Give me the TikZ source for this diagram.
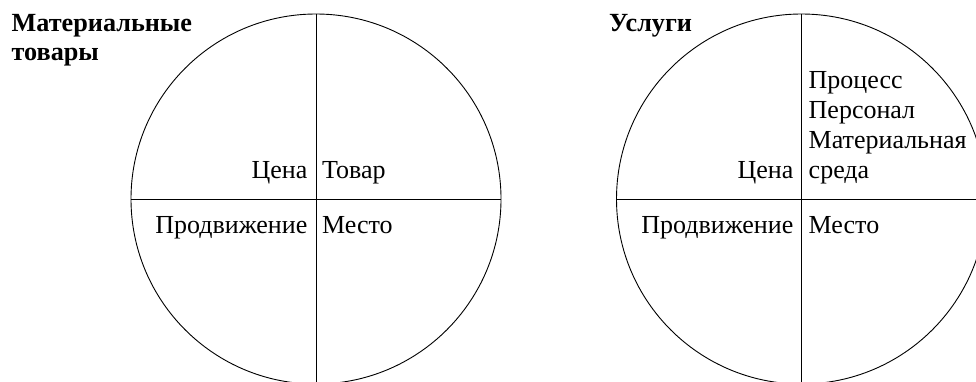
\documentclass[tikz,border=0pt]{standalone}
\usepackage{fontspec}
\setmainfont{Liberation Serif}
\usetikzlibrary{positioning}

\begin{document}
\begin{tikzpicture}[x=1pt, y=-1pt,
  quad/.style={circle, draw, line width=0.9pt, minimum size=370pt, inner sep=0pt},
  axis/.style={line width=0.9pt},
  lbl/.style={inner sep=0pt, font=\fontsize{26}{29.7}\selectfont},
  ttl/.style={inner sep=0pt, anchor=base west, font=\fontsize{26.2}{28.5}\selectfont\bfseries}]
  \useasboundingbox (0,0) rectangle (976,381);
  \clip (0,0) rectangle (976,381);
  % Circles split in four
  \node[quad] (goods) at (316,199) {};
  \node[quad] (serv) at (801.5,199) {};
  \foreach \c in {goods, serv}
    {\draw[axis] (\c.north) -- (\c.south);
     \draw[axis] (\c.west) -- (\c.east);}
  % Titles
  \node[ttl] (gtitle1) at (11.5,31.5) {Материальные};
  \node[ttl] (gtitle2) at (11.5,60) {товары};
  \node[ttl] (stitle) at (609,31.5) {Услуги};
  % Left: goods
  \node[lbl, anchor=base east] (gprice) at (307.5,178) {Цена};
  \node[lbl, anchor=base west] (gprod) at (322,178) {Товар};
  \node[lbl, anchor=base east] (gpromo) at (307.5,233) {Продвижение};
  \node[lbl, anchor=base west] (gplace) at (322,233) {Место};
  % Right: services
  \node[lbl, anchor=base east] (sprice) at (793.5,178) {Цена};
  \foreach \t [count=\i] in {Процесс, Персонал, Материальная, среда}
    {\node[lbl, anchor=base west] (sprod\i) at (808.5,{178-29.7*(4-\i)}) {\t};}
  \node[lbl, anchor=base east] (spromo) at (793.5,233) {Продвижение};
  \node[lbl, anchor=base west] (splace) at (808.5,233) {Место};
\end{tikzpicture}
\end{document}
